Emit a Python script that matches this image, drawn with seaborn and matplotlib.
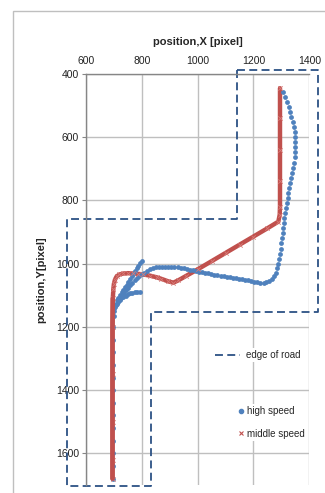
import numpy as np
import pandas as pd
import matplotlib
matplotlib.use("Agg")
import matplotlib.pyplot as plt
from matplotlib.lines import Line2D
from matplotlib.patches import Rectangle
import seaborn as sns

# --- data (pixel coordinates of the scene) ---
# high speed run: main track
hs_x = [1307, 1313, 1320, 1326, 1331, 1336, 1340, 1344, 1347, 1349, 1350, 1350, 1349, 1347,
        1344, 1341, 1338, 1335, 1331, 1328, 1325, 1322, 1319, 1316, 1313, 1311, 1308, 1306,
        1304, 1302, 1300, 1297, 1295, 1292, 1289, 1285, 1280, 1273, 1265, 1256, 1246, 1236,
        1225, 1214, 1203, 1192, 1181, 1170, 1159, 1148, 1137, 1126, 1115, 1104, 1093, 1082,
        1071, 1060, 1049, 1038, 1027, 1016, 1005, 994, 983, 972, 961, 950, 939, 928, 917, 906,
        895, 884, 873, 862, 851, 840, 829, 819, 809, 800, 791, 782, 774, 766, 758, 750, 743,
        736, 729, 722, 716, 710, 705, 702, 700, 699, 698, 698, 698, 698, 698, 698, 698, 698,
        698, 698, 698, 698, 698]
hs_y = [456, 472, 488, 504, 520, 536, 552, 568, 584, 600, 616, 632, 648, 664, 680, 696, 712,
        728, 744, 760, 776, 792, 808, 824, 840, 856, 872, 888, 904, 920, 936, 952, 968, 984,
        1000, 1015, 1028, 1039, 1048, 1054, 1058, 1060, 1060, 1059, 1057, 1055, 1053, 1051,
        1049, 1047, 1045, 1044, 1043, 1042, 1040, 1038, 1036, 1035, 1033, 1031, 1029, 1027,
        1025, 1023, 1021, 1019, 1017, 1015, 1013, 1012, 1011, 1010, 1010, 1010, 1010, 1011,
        1012, 1014, 1018, 1022, 1028, 1034, 1040, 1046, 1053, 1060, 1068, 1076, 1084, 1092,
        1100, 1108, 1116, 1124, 1132, 1140, 1150, 1165, 1200, 1240, 1280, 1320, 1360, 1400,
        1440, 1480, 1520, 1560, 1600, 1640, 1680]
# high speed run: two short spurs near the corner
hs_spur1_x = [800, 794, 788, 782, 776, 770, 764, 758, 752, 746, 740, 734, 728, 722, 716, 710]
hs_spur1_y = [990, 998, 1006, 1015, 1023, 1032, 1040, 1049, 1057, 1066, 1074, 1082, 1091,
              1099, 1107, 1115]
hs_spur2_x = [793, 784, 775, 766, 758, 750, 742, 734, 727, 721, 716, 711, 707, 704]
hs_spur2_y = [1089, 1089, 1090, 1092, 1094, 1097, 1101, 1105, 1110, 1115, 1120, 1126,
              1131, 1136]

# middle speed run
ms_x = [1295, 1295, 1295, 1295, 1295, 1294, 1289, 1250, 1200, 1150, 1100, 1050, 1000, 960,
        930, 913, 895, 870, 853, 830, 805, 785, 769, 750, 734, 720, 710, 704, 700, 698, 696,
        695, 695, 695, 695, 695]
ms_y = [445, 540, 640, 740, 820, 845, 867, 888, 914, 940, 966, 992, 1018, 1038, 1053, 1060,
        1056, 1048, 1043, 1038, 1034, 1032, 1031, 1030, 1031, 1034, 1040, 1050, 1064, 1080,
        1110, 1200, 1350, 1500, 1620, 1680]

# edge of road (closed outline)
road_x = [1142, 1430, 1430, 834, 834, 531, 531, 1142, 1142]
road_y = [387, 387, 1152, 1152, 1704, 1704, 860, 860, 387]

x_ticks = [600, 800, 1000, 1200, 1400]
y_ticks = [400, 600, 800, 1000, 1200, 1400, 1600]

blue = "#4F81BD"
red = "#C0504D"
road_col = "#2C5285"

sns.set_style("white")
plt.rcParams["font.family"] = ["Liberation Sans", "DejaVu Sans"]

fig = plt.figure(figsize=(3.25, 4.93), dpi=100)
ax = fig.add_axes([86 / 325, 1 - 485 / 493, (309.3 - 86) / 325, (485 - 74) / 493])

# outer chart border (only top/left visible in the crop)
fig.patches.append(Rectangle((13 / 325, -0.5), 2, 0.5 + 1 - 10.5 / 493,
                             transform=fig.transFigure, fill=False,
                             edgecolor="#BFBFBF", lw=1.0))

# road edge
ax.plot(road_x, road_y, color=road_col, lw=1.3, linestyle=(0, (4.4, 2.4)),
        clip_on=False, zorder=2)

# middle speed
ms = pd.DataFrame({"x": ms_x, "y": ms_y})
sns.lineplot(data=ms, x="x", y="y", sort=False, estimator=None, color=red,
             lw=3.2, ax=ax, zorder=3)
sns.scatterplot(data=ms, x="x", y="y", marker="x", s=10, color="#D77B78",
                linewidth=0.6, ax=ax, zorder=4)

# high speed
for xs, ys in [(hs_x, hs_y), (hs_spur1_x, hs_spur1_y), (hs_spur2_x, hs_spur2_y)]:
    df = pd.DataFrame({"x": xs, "y": ys})
    sns.scatterplot(data=df, x="x", y="y", marker="o", s=12, color=blue,
                    linewidth=0, ax=ax, zorder=3.5)

# red line drawn over the lower straight where both runs overlap
low = ms[ms["y"] >= 1110]
ax.plot(low["x"], low["y"], color=red, lw=3.2, zorder=5)

ax.set_xlim(600, 1400)
ax.set_ylim(1700, 400)
ax.set_xticks(x_ticks)
ax.set_yticks(y_ticks)
ax.xaxis.tick_top()
ax.xaxis.set_label_position("top")
ax.tick_params(axis="x", length=0, labelsize=7.5, pad=6, colors="#222222")
ax.tick_params(axis="y", length=3, direction="out", left=True, labelsize=7.5,
               pad=2, colors="#222222")
ax.tick_params(axis="y", color="#868686")

ax.grid(True, color="#BFBFBF", lw=1.0)
ax.set_axisbelow(True)
for side in ["right", "bottom"]:
    ax.spines[side].set_visible(False)
for side in ["left", "top"]:
    ax.spines[side].set_color("#868686")
    ax.spines[side].set_linewidth(1.0)

ax.set_xlabel("position,X [pixel]", fontsize=8, fontweight="bold", labelpad=8)
ax.set_ylabel("position,Y[pixel]", fontsize=8, fontweight="bold", labelpad=7)

# legends
road_handle = Line2D([], [], color=road_col, lw=1.3, linestyle=(0, (4.4, 2.4)))
leg1 = ax.legend([road_handle], ["edge of road"], loc="center left",
                 bbox_to_anchor=(213 / 325, 1 - 355 / 493),
                 bbox_transform=fig.transFigure, frameon=True, fancybox=False,
                 edgecolor="none", facecolor="white", framealpha=1,
                 fontsize=7, handlelength=2.6, handletextpad=0.6,
                 borderpad=0.2, borderaxespad=0)
ax.add_artist(leg1)

hs_handle = Line2D([], [], marker="o", color=blue, lw=0, markersize=3)
ms_handle = Line2D([], [], marker="x", color=red, lw=0, markersize=3,
                   markeredgewidth=0.8)
ax.legend([hs_handle, ms_handle], ["high speed", "middle speed"], loc="center left",
          bbox_to_anchor=(236 / 325, 1 - 422.5 / 493),
          bbox_transform=fig.transFigure, frameon=True, fancybox=False,
          edgecolor="none", facecolor="white", framealpha=1,
          fontsize=7, handlelength=0.6, handletextpad=0.3, labelspacing=1.3,
          borderpad=0.2, borderaxespad=0)

fig.savefig("out.png", dpi=100)
